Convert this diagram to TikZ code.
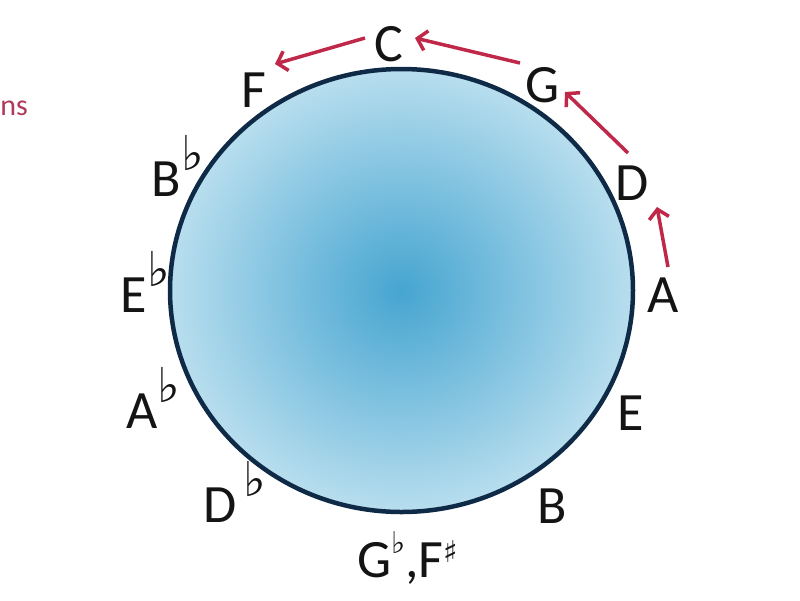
\documentclass[tikz,border=0pt]{standalone}
\usepackage{fontspec}
\setmainfont{Carlito}
\newfontfamily\accfont{DejaVu Sans}
\usetikzlibrary{arrows.meta}
\definecolor{arrowred}{HTML}{C0284A}
\definecolor{rimblue}{HTML}{0E2A47}
\definecolor{cin}{HTML}{46A5D0}
\definecolor{cmid}{HTML}{7CC0DF}
\definecolor{cout}{HTML}{B8DEEE}
\definecolor{nsred}{HTML}{B03A5B}
\pgfdeclareradialshading{discshade}{\pgfpoint{0bp}{0bp}}{color(0bp)=(cin); color(12bp)=(cmid); color(25bp)=(cout); color(50bp)=(cout)}
\newcommand\accf[3]{\raisebox{#2}{\accfont\fontsize{#1}{#1}\selectfont #3}}
\tikzset{
  note/.style={anchor=base west, inner sep=0pt, font=\fontsize{54}{60}\selectfont, text=black!92},
  fifth/.style={draw=arrowred, line width=3.5pt, -{Straight Barb[length=9pt,width=20pt,line width=3.5pt]}},
  rim/.style={draw=rimblue, line width=4.5pt, shading=discshade}
}
\begin{document}
\begin{tikzpicture}[x=1pt,y=-1pt]
\useasboundingbox (0,0) rectangle (800,600);
\path[rim] (401.5,290.5) ellipse [x radius=231.5, y radius=221.5];
\node[anchor=base east, inner sep=0pt, font=\fontsize{30}{34}\selectfont, text=nsred] (ns) at (28,115) {ns};
\node[note] (C) at (374,61) {C};
\node[note] (F) at (241.5,107) {F};
\node[note] (G) at (525,102) {G};
\node[note] (Bb) at (151.5,196) {B\accf{48}{26pt}{♭}};
\node[note] (D) at (615.5,200) {D};
\node[note] (Eb) at (120.5,312) {E\accf{48}{26pt}{♭}};
\node[note] (A) at (647.5,312) {A};
\node[note] (Ab) at (126.5,428) {A\accf{48}{26pt}{♭}};
\node[note] (E) at (617.5,430) {E};
\node[note] (Db) at (203.5,522) {D\hspace{7pt}\accf{48}{26pt}{♭}};
\node[note] (B) at (537.5,523) {B};
\node[note] (Gb) at (357,577) {G\accf{30}{24pt}{♭},F\accf{30}{15pt}{♯}};
\coordinate (c1) at (365,38);
\coordinate (f1) at (275,64);
\coordinate (g1) at (520,63);
\coordinate (c2) at (415,38);
\coordinate (d1) at (628,153);
\coordinate (g2) at (565,92);
\coordinate (a1) at (668,267);
\coordinate (d2) at (657,207);
\draw[fifth] (c1) -- (f1);
\draw[fifth] (g1) -- (c2);
\draw[fifth] (d1) -- (g2);
\draw[fifth] (a1) -- (d2);
\end{tikzpicture}
\end{document}
